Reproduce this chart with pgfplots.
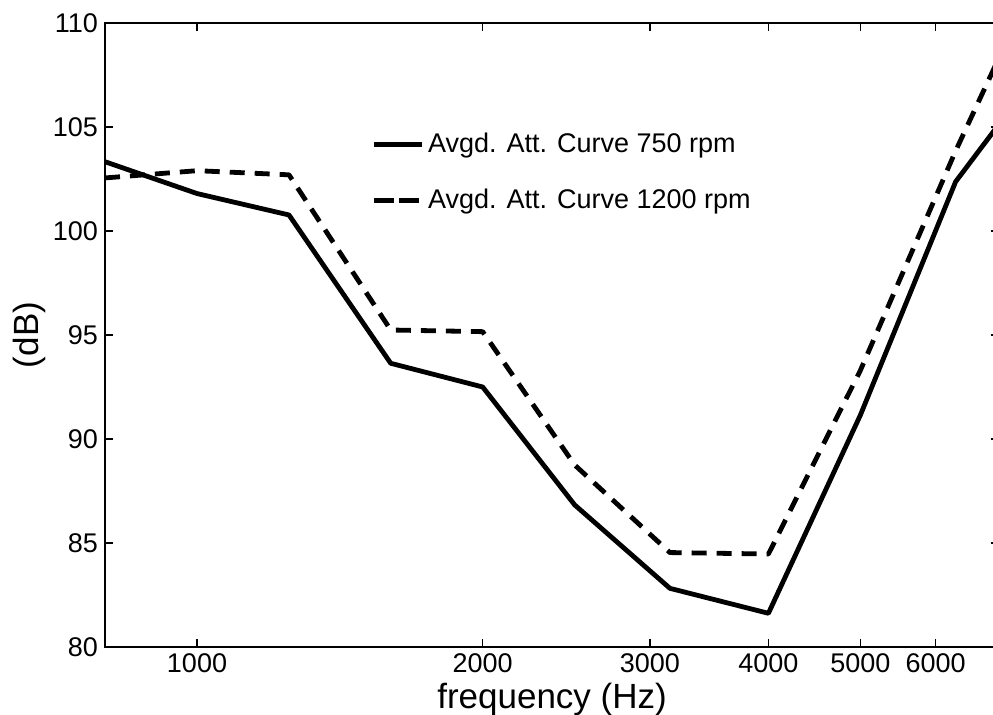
\documentclass[border=0pt]{standalone}
\usepackage{fontspec}
\setmainfont{Liberation Sans}
\usepackage{pgfplots}
\pgfplotsset{compat=1.18}
\begin{document}
\begin{tikzpicture}
\begin{axis}[
  name=ax,
  scale only axis, width=447pt, height=312pt,
  xmode=log, xmin=800, xmax=7000, ymin=80, ymax=110,
  xtick={1000,2000,3000,4000,5000,6000},
  xticklabels={1000,2000,3000,4000,5000,6000},
  minor xtick={},
  ytick={80,85,...,110},
  tick pos=both, tick align=inside,
  major tick length=4pt,
  axis line style={line width=0.9pt},
  every tick/.style={black, line width=0.8pt},
  /pgf/number format/assume math mode=true,
  tick label style={font=\fontsize{13.5}{16}\selectfont},
  xlabel={frequency (Hz)}, ylabel={(dB)},
  label style={font=\fontsize{17.5}{21}\selectfont},
  xlabel style={at={(rel axis cs:0.5,-0.0978)}, anchor=base},
  ylabel style={at={(rel axis cs:-0.085,0.5)}, anchor=center},
  legend cell align=left,
  legend style={draw=none, fill=none, at={(rel axis cs:0.2975,0.829)}, anchor=north west,
    font=\fontsize{13.5}{16}\selectfont, row sep=13.8pt, inner sep=0pt, nodes={inner sep=1.5pt}},
]
\addplot[black, line width=2.4pt, line join=round,
  legend image code/.code={\draw[black, line width=2.5pt] (0pt,0pt) -- (24pt,0pt);}]
  coordinates {(800,103.33) (1000,101.8) (1250,100.77) (1600,93.64) (2000,92.5) (2500,86.83) (3150,82.82) (4000,81.62) (5000,91.15) (6300,102.37) (8000,108.65)};
\addlegendentry{Avgd. Att. Curve 750 rpm}
\addplot[black, line width=2.4pt, line join=round, dash pattern=on 7.5pt off 5pt,
  legend image code/.code={\draw[black, line width=2.8pt, dash pattern=on 10pt off 2.5pt] (0pt,0pt) -- (24pt,0pt);}]
  coordinates {(800,102.55) (1000,102.9) (1250,102.7) (1600,95.24) (2000,95.16) (2500,88.75) (3150,84.54) (4000,84.47) (5000,93.3) (6300,103.85) (8000,114.03)};
\addlegendentry{Avgd. Att. Curve 1200 rpm}
\end{axis}
\pgfresetboundingbox
\path[use as bounding box] ([xshift=-52.5pt,yshift=-34pt]ax.south west) rectangle ([xshift=-3pt,yshift=11.5pt]ax.north east);
\end{tikzpicture}
\end{document}
